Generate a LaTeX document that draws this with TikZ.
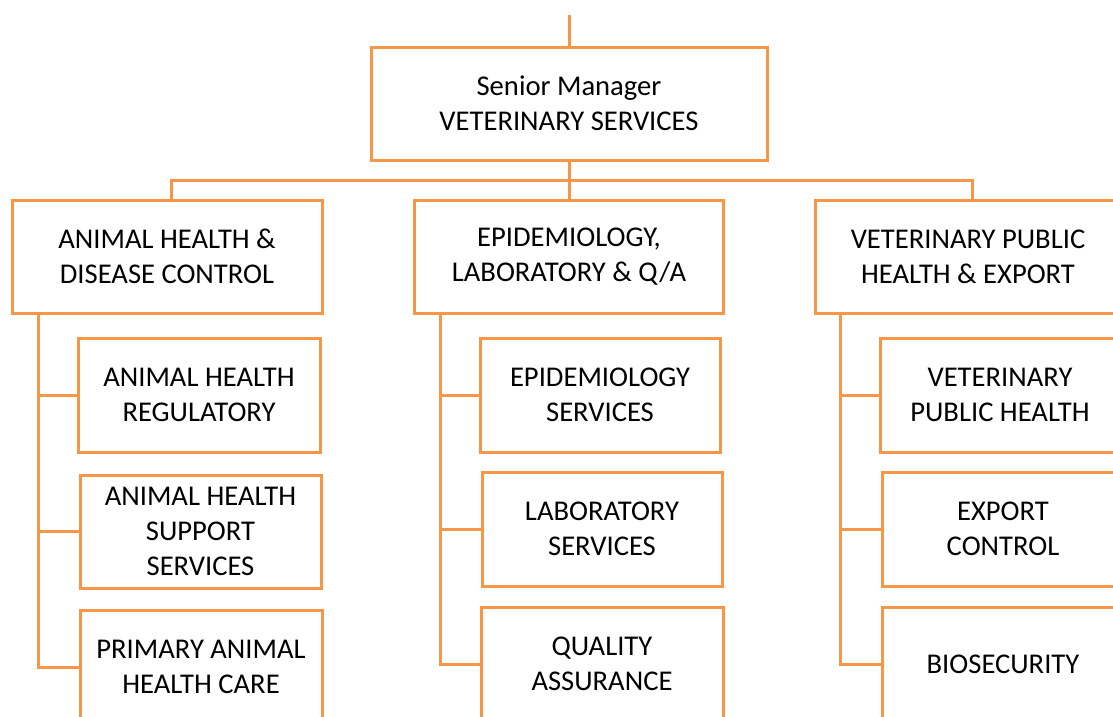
\documentclass[tikz,border=0pt]{standalone}
\usepackage{fontspec}
\setmainfont{Carlito}
\definecolor{orgline}{HTML}{F79646}
\begin{document}
\begin{tikzpicture}[x=1pt,y=-1pt,
  unit/.style={draw=orgline, line width=3pt, fill=white, inner sep=0pt,
    align=center, font=\fontsize{28.6}{35}\selectfont, text=black},
  link/.style={draw=orgline, line width=3pt}]
\useasboundingbox (0,0) rectangle (1113,716);
\clip (0,0) rectangle (1113,716);

% head of the service
\node[unit, minimum width=396, minimum height=113] (head) at (569,103.5)
  {Senior Manager\\VETERINARY SERVICES};

% directorates
\node[unit, minimum width=310, minimum height=113] (ahd) at (167,256.5)
  {ANIMAL HEALTH \&\\DISEASE CONTROL};
\node[unit, minimum width=309, minimum height=113] (elq) at (569,256.5)
  {EPIDEMIOLOGY,\\LABORATORY \& Q/A};
\node[unit, minimum width=306, minimum height=113] (vph) at (968,256.5)
  {VETERINARY PUBLIC\\HEALTH \& EXPORT};

% sub-directorates
\node[unit, minimum width=242, minimum height=114] (ahr) at (199,395)
  {ANIMAL HEALTH\\REGULATORY};
\node[unit, minimum width=241, minimum height=113] (ahs) at (200.5,531.5)
  {ANIMAL HEALTH\\SUPPORT\\SERVICES};
\node[unit, minimum width=242, minimum height=114] (pah) at (201,667)
  {PRIMARY ANIMAL\\HEALTH CARE};

\node[unit, minimum width=240, minimum height=114] (eps) at (600,395)
  {EPIDEMIOLOGY\\SERVICES};
\node[unit, minimum width=240, minimum height=114] (lab) at (602,529)
  {LABORATORY\\SERVICES};
\node[unit, minimum width=242, minimum height=114] (qas) at (602,664)
  {QUALITY\\ASSURANCE};

\node[unit, minimum width=240, minimum height=114] (vpu) at (1000,395)
  {VETERINARY\\PUBLIC HEALTH};
\node[unit, minimum width=242, minimum height=114] (exp) at (1003,529)
  {EXPORT\\CONTROL};
\node[unit, minimum width=242, minimum height=114] (bio) at (1003,664)
  {BIOSECURITY};

% reporting lines
\coordinate (above) at (569,15);
\coordinate (bus) at (569,180);
\draw[link] (above) -- (head.north);
\draw[link] (head.south) -- (elq.north);
\draw[link] ([xshift=4pt]ahd.north) -- ([xshift=4pt]ahd.north |- bus)
  -- ([xshift=4pt]vph.north |- bus) -- ([xshift=4pt]vph.north);

\coordinate (spineA) at (38,313);
\coordinate (spineB) at (440,313);
\coordinate (spineC) at (840,313);
\draw[link] (spineA) |- (ahr.west);
\draw[link] (spineA) |- (ahs.west);
\draw[link] (spineA) |- (pah.west);
\draw[link] (spineB) |- (eps.west);
\draw[link] (spineB) |- (lab.west);
\draw[link] (spineB) |- (qas.west);
\draw[link] (spineC) |- (vpu.west);
\draw[link] (spineC) |- (exp.west);
\draw[link] (spineC) |- (bio.west);
\end{tikzpicture}
\end{document}
